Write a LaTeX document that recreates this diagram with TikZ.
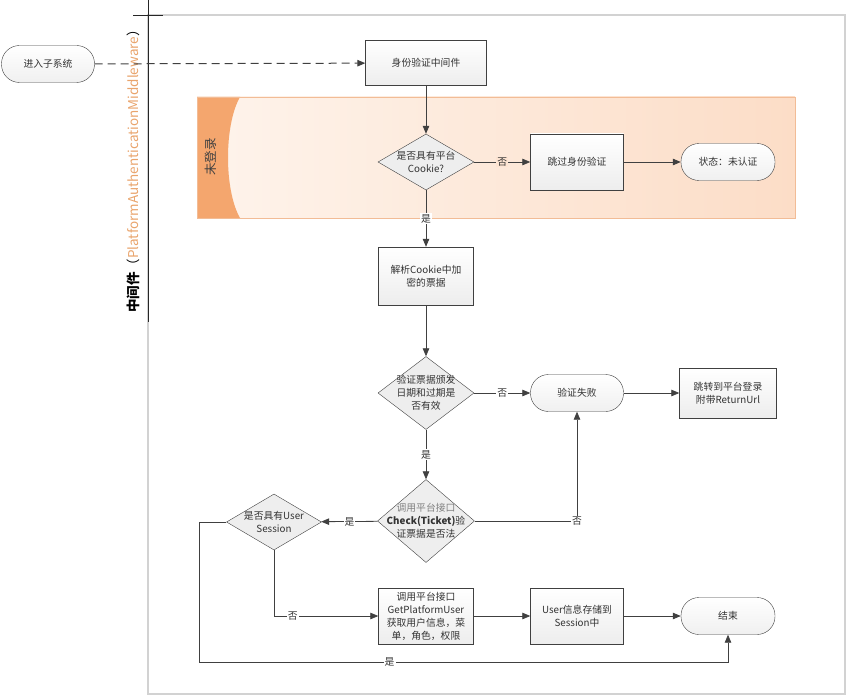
\documentclass[tikz,border=0pt]{standalone}
\usepackage{fontspec}
\setmainfont{Noto Sans CJK SC}
\usetikzlibrary{arrows.meta,shapes.geometric}
\definecolor{linec}{HTML}{404040}
\definecolor{textc}{HTML}{333333}
\definecolor{bandc}{HTML}{FCDDC7}
\definecolor{bandl}{HTML}{FEF4EC}
\definecolor{stripc}{HTML}{F4A66E}
\definecolor{bandedge}{HTML}{F2BC96}
\definecolor{orangetext}{HTML}{E9A46C}
\begin{document}
\begin{tikzpicture}[x=1pt, y=-1pt,
    font=\fontsize{9.8}{13}\selectfont, text=textc,
    block/.style={rectangle, draw=linec, top color=white, bottom color=gray!14, minimum width=95pt, minimum height=56pt, align=center, inner sep=2pt},
    term/.style={rectangle, rounded corners=18pt, draw=linec, top color=white, bottom color=gray!12, minimum width=94pt, minimum height=37pt, align=center},
    decision/.style={diamond, draw=linec, fill=gray!13, inner sep=0pt},
    arrow/.style={-{Triangle[length=8pt,width=6.5pt]}, draw=linec, line width=0.8pt},
    lbl/.style={fill=white, inner sep=1pt}
]
\useasboundingbox (0,0) rectangle (846,698);

\draw[gray!35, line width=1.2pt] (148,15) -- (845,15) -- (845,694) -- (148,694) -- cycle;
\draw[black!85, line width=0.8pt] (148,0) -- (148,322);
\draw[black!85, line width=0.8pt] (133,15) -- (163,15);
\node[rotate=90, text=black, font=\fontsize{13.5}{15}\selectfont] (pool) at (133,168) {\textbf{中间件}（\textcolor{orangetext}{PlatformAuthenticationMiddleware}）};

\fill[left color=bandl, right color=bandc] (197,97) rectangle (795,218);
\fill[stripc] (197,97) -- (240,97) .. controls (224,125) and (224,190) .. (240,218) -- (197,218) -- cycle;
\draw[bandedge, line width=0.8pt] (197,97) rectangle (795,218);
\node[rotate=90, text=black!75, font=\fontsize{12.5}{14}\selectfont] (lane) at (211,157) {未登录};

\node[term, minimum width=93pt] (enter) at (48,64) {进入子系统};
\node[block, minimum width=121pt, minimum height=45pt] (auth) at (426,63) {身份验证中间件};
\node[decision, minimum width=96pt, minimum height=56pt] (hasck) at (426,162) {};
\node[align=center] (hasck-t) at (hasck) {是否具有平台\\Cookie?};
\node[block, minimum width=93pt] (skip) at (577,162) {跳过身份验证};
\node[term] (anon) at (728,162) {状态：未认证};

\node[block, minimum width=95pt, minimum height=58pt] (parse) at (426,276) {解析Cookie中加\\密的票据};
\node[decision, minimum width=96pt, minimum height=73pt] (valid) at (426,393) {};
\node[align=center] (valid-t) at (valid) {验证票据颁发\\日期和过期是\\否有效};
\node[term, minimum width=93pt] (fail) at (577,393) {验证失败};
\node[block, minimum width=97pt, minimum height=50pt] (login) at (728,393) {跳转到平台登录\\附带ReturnUrl};

\node[decision, minimum width=97pt, minimum height=83pt] (check) at (426,521) {};
\node[align=center] (check-t) at (check) {\textcolor{gray}{调用平台接口}\\\textbf{Check(Ticket)}验\\证票据是否法};
\node[decision, minimum width=95pt, minimum height=56pt] (hasus) at (274,522) {};
\node[align=center] (hasus-t) at (hasus) {是否具有User\\Session};

\node[block, minimum width=95pt, minimum height=56pt] (getuser) at (426,616) {调用平台接口\\GetPlatformUser\\获取用户信息，菜\\单，角色，权限};
\node[block, minimum width=93pt, minimum height=56pt] (store) at (577,616) {User信息存储到\\Session中};
\node[term] (finish) at (728,616) {结束};

\draw[arrow, line width=1pt, dash pattern=on 8pt off 5pt] (enter) -- (auth);
\draw[arrow] (auth) -- (hasck);
\draw[arrow] (hasck) -- node[lbl, fill=bandc!70!bandl] {否} (skip);
\draw[arrow] (skip) -- (anon);
\draw[arrow] (hasck) -- node[lbl] {是} (parse);
\draw[arrow] (parse) -- (valid);
\draw[arrow] (valid) -- node[lbl] {否} (fail);
\draw[arrow] (fail) -- (login);
\draw[arrow] (valid) -- node[lbl] {是} (check);
\draw[arrow] (check) -- node[lbl] {是} (hasus);
\draw[arrow] (check.east) -| node[lbl, pos=0.5] {否} (fail.south);
\draw[arrow] (hasus.south) |- node[lbl, pos=0.59] {否} (getuser.west);
\draw[arrow] (getuser) -- (store);
\draw[arrow] (store) -- (finish);
\draw[arrow] (hasus.west) -- ++(-27,0) -- ++(0,140) -| node[lbl, pos=0.18] {是} (finish.south);
\end{tikzpicture}
\end{document}
